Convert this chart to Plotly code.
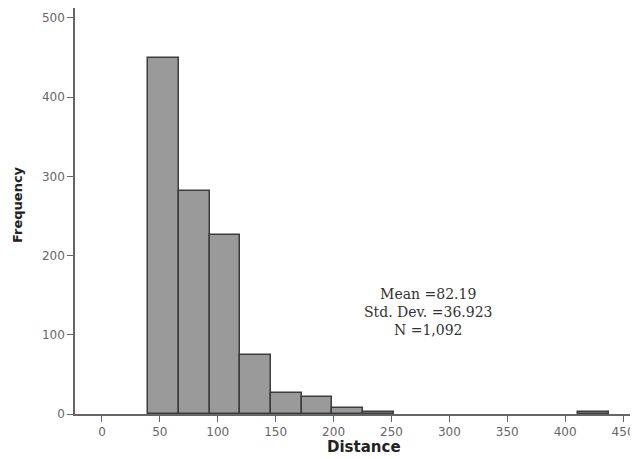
import plotly.graph_objects as go

# Histogram data
bin_left = [40, 66.5, 93, 119.5, 146, 172.5, 199, 225.5, 411]
counts = [450, 281, 226, 75, 27, 21, 7, 3, 2]
bin_width = 26.5
x_ticks = [0, 50, 100, 150, 200, 250, 300, 350, 400, 450]
y_ticks = [0, 100, 200, 300, 400, 500]
stats_lines = ["Mean =82.19", "Std. Dev. =36.923", "N =1,092"]

centers = [b + bin_width / 2 for b in bin_left]

# page body has an 8px margin, so the figure is sized to fit the window
OFF = 8
W, H = 638 - OFF, 459 - OFF
L, R, T, B = 75 - OFF, 0, 8 - OFF, 45
pw, ph = W - L - R, H - T - B

fig = go.Figure()
fig.add_trace(go.Bar(
    x=centers, y=counts, width=[bin_width] * len(counts),
    marker=dict(color="#9a9a9a", line=dict(color="#3c3c3c", width=1.5)),
    showlegend=False,
))

fig.add_annotation(
    x=281.5, y=129, xref="x", yref="y", xanchor="center", yanchor="middle",
    text="<br>".join(stats_lines), showarrow=False,
    font=dict(family="DejaVu Serif, serif", size=14, color="#333"),
    align="center",
)


def px_to_paper(xw, yw):
    xf, yf = xw - OFF, yw - OFF
    return (xf - L) / pw, (H - B - yf) / ph


fx, fy = px_to_paper(17, 205)
fig.add_annotation(
    x=fx, y=fy, xref="paper", yref="paper", text="<b>Frequency</b>",
    xanchor="center", yanchor="middle",
    showarrow=False, textangle=-90,
    font=dict(family="DejaVu Sans, sans-serif", size=13, color="#222"),
)
dx, dy = px_to_paper(364, 447)
fig.add_annotation(
    x=dx, y=dy, xref="paper", yref="paper", text="<b>Distance</b>",
    xanchor="center", yanchor="middle",
    showarrow=False,
    font=dict(family="DejaVu Sans, sans-serif", size=15, color="#222"),
)

fig.update_layout(
    width=W, height=H,
    margin=dict(l=L, r=R, t=T, b=B, pad=0),
    plot_bgcolor="white", paper_bgcolor="white",
    bargap=0,
    xaxis=dict(
        range=[-23.3, 462.9], tickvals=x_ticks, ticks="outside", ticklen=6,
        tickcolor="#666", showline=True, linecolor="#666", linewidth=1.5,
        showgrid=False, zeroline=False, automargin=False,
        tickfont=dict(family="DejaVu Sans, sans-serif", size=12, color="#666"),
    ),
    yaxis=dict(
        range=[0, 512.6], tickvals=y_ticks, ticks="outside", ticklen=6,
        tickcolor="#666", showline=True, linecolor="#666", linewidth=1.5,
        showgrid=False, zeroline=False, automargin=False,
        tickfont=dict(family="DejaVu Sans, sans-serif", size=12, color="#666"),
    ),
)

fig.write_html("out.html")
